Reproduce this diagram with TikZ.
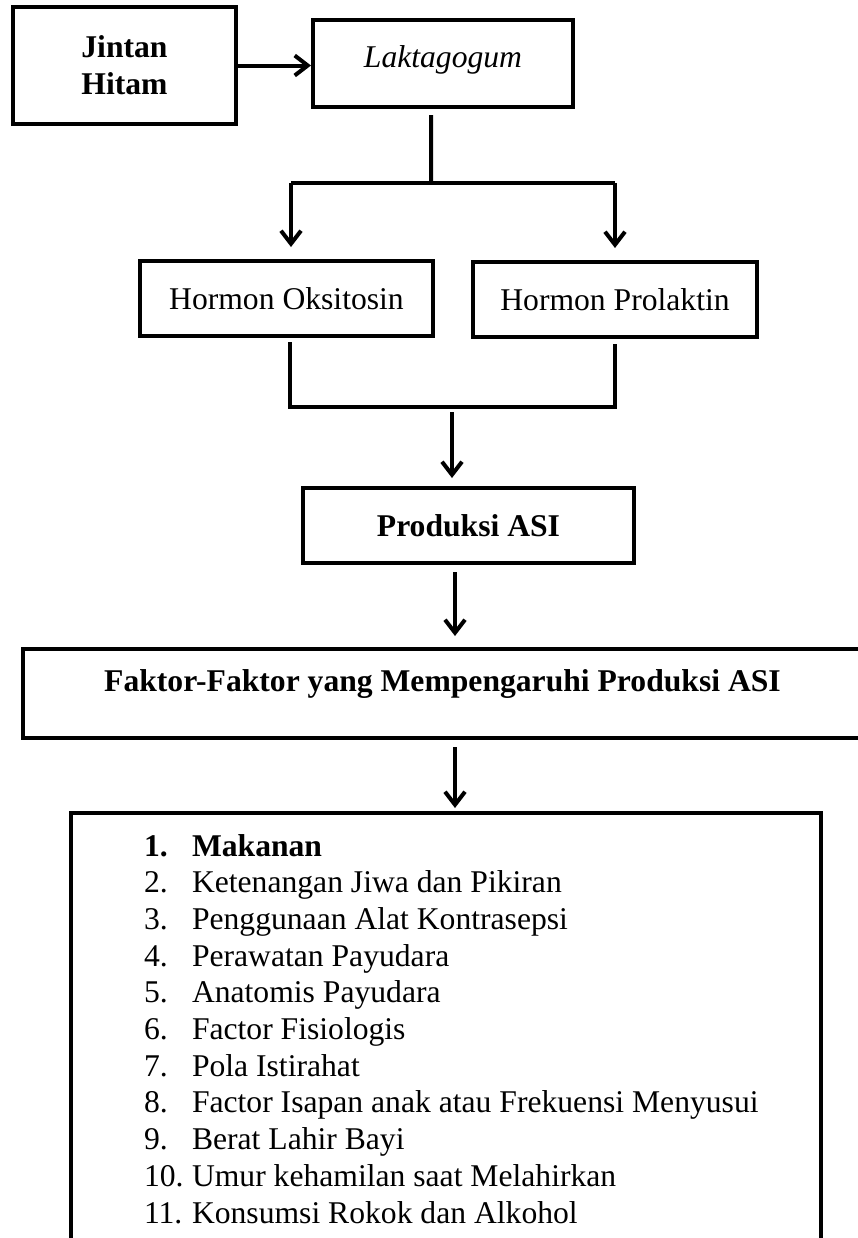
\documentclass[tikz,border=0pt]{standalone}
\usepackage{fontspec}
\setmainfont{Liberation Serif}
\usetikzlibrary{arrows.meta}

\begin{document}
\begin{tikzpicture}[line width=0.08cm, >={Straight Barb[length=0.26cm,width=0.4cm]},
    every node/.style={font=\fontsize{18}{21}\selectfont},
    kotak/.style={draw, rectangle, align=center, inner sep=0pt}]
        \useasboundingbox (0,0) rectangle (17.14,-24.76);
        % kotak-kotak
        \node[kotak, minimum width=4.46cm, minimum height=2.34cm] (jintan) at (2.49,-1.31) {\textbf{Jintan}\\\textbf{Hitam}};
        \node[kotak, minimum width=5.2cm, minimum height=1.74cm, text height=0.43cm, text depth=0.29cm] (lakta) at (8.86,-1.27) {\textit{Laktagogum}};
        \node[kotak, minimum width=5.86cm, minimum height=1.5cm] (oksi) at (5.73,-5.97) {Hormon Oksitosin};
        \node[kotak, minimum width=5.68cm, minimum height=1.5cm] (prola) at (12.3,-5.99) {Hormon Prolaktin};
        \node[kotak, minimum width=6.62cm, minimum height=1.5cm] (produksi) at (9.37,-10.51) {\textbf{Produksi ASI}};
        \node[kotak, minimum width=16.78cm, minimum height=1.78cm, text height=0.45cm, text depth=0.55cm] (faktor) at (8.85,-13.87) {\textbf{Faktor-Faktor yang Mempengaruhi Produksi ASI}};
        \node[kotak, minimum width=15cm, minimum height=8.74cm] (lst) at (8.92,-20.63) {};

        % titik cabang
        \coordinate (split) at (8.62,-3.66);
        \coordinate (bl) at (5.82,-3.66);
        \coordinate (br) at (12.3,-3.66);
        \coordinate (ml) at (5.8,-8.14);
        \coordinate (mr) at (12.3,-8.14);
        \coordinate (mid) at (9.04,-8.14);

        \draw[->] (jintan.east) -- (jintan.east -| lakta.west);
        \draw[shorten <=0.12cm] ([xshift=-0.24cm]lakta.south) -- (split);
        \draw (bl) -- (br);
        \draw[->, shorten >=0.24cm] (bl) -- (bl |- oksi.north);
        \draw[->, shorten >=0.24cm] (br) -- (br |- prola.north);
        \draw[shorten <=0.08cm, shorten >=0.1cm] (ml |- oksi.south) -- (ml) -- (mr) -- (mr |- prola.south);
        \draw[->, shorten <=0.1cm, shorten >=0.16cm] (mid) -- (mid |- produksi.north);
        \draw[->, shorten <=0.14cm, shorten >=0.22cm] ([xshift=-0.27cm]produksi.south) -- ([xshift=-0.27cm]produksi.south |- faktor.north);
        \draw[->, shorten <=0.14cm, shorten >=0.06cm] ([xshift=0.25cm]faktor.south) -- ([xshift=0.25cm]faktor.south |- lst.north);

        % daftar faktor
        \node[anchor=base west, inner sep=0pt] (num1) at (2.84,-17.12) {\textbf{1.}};
        \node[anchor=base west, inner sep=0pt] (item1) at (3.8,-17.12) {\textbf{Makanan}};
        \foreach \txt [count=\i from 2] in {Ketenangan Jiwa dan Pikiran, Penggunaan Alat Kontrasepsi,
            Perawatan Payudara, Anatomis Payudara, Factor Fisiologis, Pola Istirahat,
            Factor Isapan anak atau Frekuensi Menyusui, Berat Lahir Bayi,
            Umur kehamilan saat Melahirkan, Konsumsi Rokok dan Alkohol}
        {
            \node[anchor=base west, inner sep=0pt] (num\i) at (2.84,{-17.12-(\i-1)*0.734}) {\i.};
            \node[anchor=base west, inner sep=0pt] (item\i) at (3.8,{-17.12-(\i-1)*0.734}) {\txt};
        }

      \end{tikzpicture}
\end{document}
